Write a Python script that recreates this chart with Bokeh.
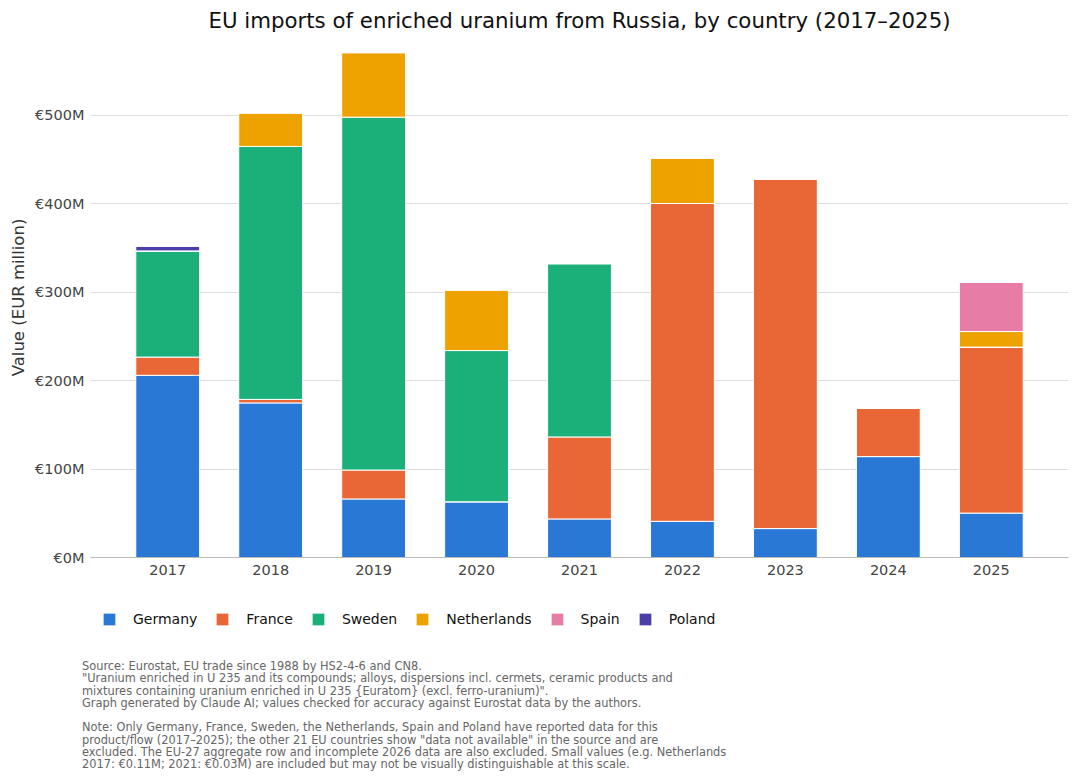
import numpy as np
from bokeh.plotting import figure
from bokeh.models import Range1d, FixedTicker, Legend, LegendItem, Div, ColumnDataSource
from bokeh.layouts import column
from bokeh.embed import file_html
from bokeh.resources import INLINE

years = ["2017", "2018", "2019", "2020", "2021", "2022", "2023", "2024", "2025"]
countries = ["Germany", "France", "Sweden", "Netherlands", "Spain", "Poland"]
germany = [206.0, 174.8, 66.2, 63.0, 43.6, 40.9, 32.7, 114.1, 50.2]
france = [20.6, 4.0, 32.7, 0.0, 92.7, 359.4, 395.3, 54.9, 187.7]
sweden = [120.0, 286.0, 399.0, 171.0, 196.0, 0.0, 0.0, 0.0, 0.0]
netherlands = [0.11, 38.0, 73.0, 68.5, 0.03, 51.4, 0.0, 0.0, 17.6]
spain = [0.0, 0.0, 0.0, 0.0, 0.0, 0.0, 0.0, 0.0, 55.6]
poland = [5.0, 0.0, 0.0, 0.0, 0.0, 0.0, 0.0, 0.0, 0.0]
colors = ["#2a78d6", "#e96736", "#1bb07a", "#eda200", "#e77ca6", "#4a3ea8"]
y_ticks = [0, 100, 200, 300, 400, 500]

title_text = "EU imports of enriched uranium from Russia, by country (2017\u20132025)"
source_lines = [
    "Source: Eurostat, EU trade since 1988 by HS2-4-6 and CN8.",
    "\"Uranium enriched in U 235 and its compounds; alloys, dispersions incl. cermets, ceramic products and",
    "mixtures containing uranium enriched in U 235 {Euratom} (excl. ferro-uranium)\".",
    "Graph generated by Claude AI; values checked for accuracy against Eurostat data by the authors.",
]
note_lines = [
    "Note: Only Germany, France, Sweden, the Netherlands, Spain and Poland have reported data for this",
    "product/flow (2017\u20132025); the other 21 EU countries show \"data not available\" in the source and are",
    "excluded. The EU-27 aggregate row and incomplete 2026 data are also excluded. Small values (e.g. Netherlands",
    "2017: \u20ac0.11M; 2021: \u20ac0.03M) are included but may not be visually distinguishable at this scale.",
]

FONT = "DejaVu Sans"

data = {"x": list(range(len(years)))}
series = [germany, france, sweden, netherlands, spain, poland]
for name, vals in zip(countries, series):
    data[name] = vals

p = figure(frame_width=978, frame_height=520, output_backend="svg", toolbar_location=None,
           x_range=Range1d(-0.75, len(years) - 0.25), y_range=Range1d(0, 588),
           min_border_left=90, min_border_right=2, min_border_top=0, min_border_bottom=40)
p.outline_line_color = None

p.vbar_stack(countries, x="x", width=0.62, source=data, color=colors,
             line_color="white", line_width=1)

p.title.text = title_text
p.title.align = "center"
p.title.text_font = FONT
p.title.text_font_size = "21.3px"
p.title.text_font_style = "normal"
p.title.text_color = "#111111"
p.title.standoff = 10

p.xaxis.ticker = FixedTicker(ticks=list(range(len(years))))
p.xaxis.major_label_overrides = {i: y for i, y in enumerate(years)}
p.yaxis.ticker = FixedTicker(ticks=y_ticks)
p.yaxis.major_label_overrides = {v: "\u20ac%dM" % v for v in y_ticks}
for ax in (p.xaxis[0], p.yaxis[0]):
    ax.major_label_text_font = FONT
    ax.major_label_text_font_size = "14.5px"
    ax.major_label_text_color = "#444444"
    ax.major_tick_line_color = None
    ax.minor_tick_line_color = None
    ax.major_tick_out = 0
    ax.major_tick_in = 0
    ax.minor_tick_out = 0
    ax.minor_tick_in = 0
p.xaxis.axis_line_color = "#bbbbbb"
p.yaxis.axis_line_color = None
p.xaxis.major_label_standoff = 7
p.yaxis.major_label_standoff = 6
p.yaxis.axis_label = "Value (EUR million)"
p.yaxis.axis_label_text_font = FONT
p.yaxis.axis_label_text_font_size = "16.5px"
p.yaxis.axis_label_text_font_style = "normal"
p.yaxis.axis_label_text_color = "#333333"
p.yaxis.axis_label_standoff = 4

p.xgrid.grid_line_color = None
p.ygrid.grid_line_color = "#dddddd"
p.ygrid.grid_line_width = 1

# legend strip below the chart (key glyphs carry no visible data)
lg = figure(width=1070, height=44, output_backend="svg", toolbar_location=None,
            x_axis_location=None, y_axis_location=None,
            min_border_left=0, min_border_right=0, min_border_top=0, min_border_bottom=0)
lg.outline_line_color = None
lg.xgrid.grid_line_color = None
lg.ygrid.grid_line_color = None
empty = ColumnDataSource(data={"x": np.array([np.nan]), "top": np.array([np.nan])})
keys = [lg.vbar(x="x", top="top", width=0.6, source=empty, color=c, line_color="white")
        for c in colors]
items = [LegendItem(label=c, renderers=[r]) for c, r in zip(countries, keys)]
legend = Legend(items=items, orientation="horizontal", location=(11, 14),
                glyph_width=16, glyph_height=16, label_standoff=16, spacing=17,
                label_text_font=FONT, label_text_font_size="14px", label_text_color="#111111",
                border_line_color=None, background_fill_alpha=0, padding=0, margin=0,
                label_height=16)
lg.add_layout(legend, "center")

html = ("<div style='font-family:DejaVu Sans; font-size:11.4px; color:#666666; line-height:12.3px; white-space:nowrap;'>"
        + "<br>".join(source_lines) + "<br><br>" + "<br>".join(note_lines) + "</div>")
foot = Div(text=html, margin=(19, 0, 0, 82))

layout = column(p, lg, foot, spacing=0)
open("out.html", "w").write(file_html(layout, INLINE))
